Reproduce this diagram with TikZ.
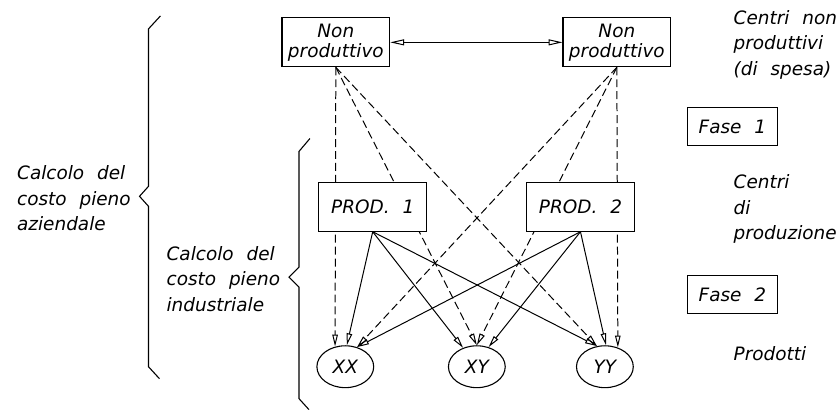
\documentclass[tikz,border=0pt]{standalone}
\usepackage{fontspec}
\setmainfont{DejaVu Sans}[WordSpace=2.2]
\usetikzlibrary{arrows.meta,shapes.geometric}
\begin{document}
\begin{tikzpicture}[x=1pt,y=-1pt,
  txt/.style={font=\fontsize{18.5}{25.5}\selectfont\itshape, inner sep=0pt, align=left},
  centre/.style={draw, line width=1.1pt, fill=white, inner sep=0pt,
    minimum width=108pt, minimum height=49pt, align=center,
    font=\fontsize{18.5}{20}\selectfont\itshape},
  phase/.style={draw, line width=1.1pt, inner sep=0pt,
    minimum width=90pt, minimum height=38pt,
    font=\fontsize{18.5}{20}\selectfont\itshape},
  product/.style={draw, ellipse, line width=1.1pt, inner sep=0pt,
    minimum width=57pt, minimum height=42pt,
    font=\fontsize{18.5}{20}\selectfont\itshape},
  tip/.style={-{Triangle[open, length=12pt, width=5.5pt, line width=1pt]}},
  flow/.style={tip, line width=1pt},
  alloc/.style={tip, line width=1pt, dash pattern=on 8pt off 4pt},
  brace/.style={line width=1.1pt}
]
\path (0,0) rectangle (837,412);

% cost centres and products
\node[centre]  (np1) at (337,42.5) {Non\\produttivo};
\node[centre]  (np2) at (619,42.5) {Non\\produttivo};
\node[product] (xx)  at (346.5,368) {XX};
\node[product] (xy)  at (478.5,368) {XY};
\node[product] (yy)  at (607,368) {YY};

% allocation of non-productive costs (dashed)
\draw[alloc] (np1.south) -- (xx.117);
\draw[alloc] (np1.south) -- (xy.90);
\draw[alloc] (np1.south) -- (yy.111);
\draw[alloc] (np2.south) -- (xx.59);
\draw[alloc] (np2.south) -- (xy.90);
\draw[alloc] (np2.south) -- (yy.56);

% production centres cover the dashed lines
\node[centre] (p1) at (374,207.5) {PROD. 1};
\node[centre] (p2) at (582.5,207.5) {PROD. 2};

% production cost flows (solid)
\draw[flow] (p1.south) -- (xx.86);
\draw[flow] (p1.south) -- (xy.126);
\draw[flow] (p1.south) -- (yy.111);
\draw[flow] (p2.south) -- (xx.59);
\draw[flow] (p2.south) -- (xy.59);
\draw[flow] (p2.south) -- (yy.87);

% exchange between the non-productive centres
\draw[line width=1pt, {Triangle[open, length=14pt, width=6pt, line width=1pt]}-{Triangle[open, length=14pt, width=6pt, line width=1pt]}] (np1.east) -- (np2.west);

% braces
\draw[brace] (161,16) -- (149,29) -- (149,187) -- (140,197) -- (149,207) -- (149,368) -- (160,380);
\draw[brace] (311,139) -- (300,152) -- (300,268) -- (290,278) -- (300,288) -- (300,400) -- (310,411);

% brace labels
\node[txt, anchor=west] (az) at (17,199) {Calcolo del\\costo pieno\\aziendale};
\node[txt, anchor=west] (ind) at (167,280) {Calcolo del\\costo pieno\\industriale};

% legend on the right
\node[txt, anchor=west] (lnp) at (736,45) {Centri non\\produttivi\\(di spesa)};
\node[phase] (f1) at (735,127) {Fase 1};
\node[txt, anchor=west] (lpr) at (736,210) {Centri\\di\\produzione};
\node[phase] (f2) at (735,295.5) {Fase 2};
\node[txt, anchor=west] (lpd) at (736,355) {Prodotti};
\end{tikzpicture}
\end{document}
